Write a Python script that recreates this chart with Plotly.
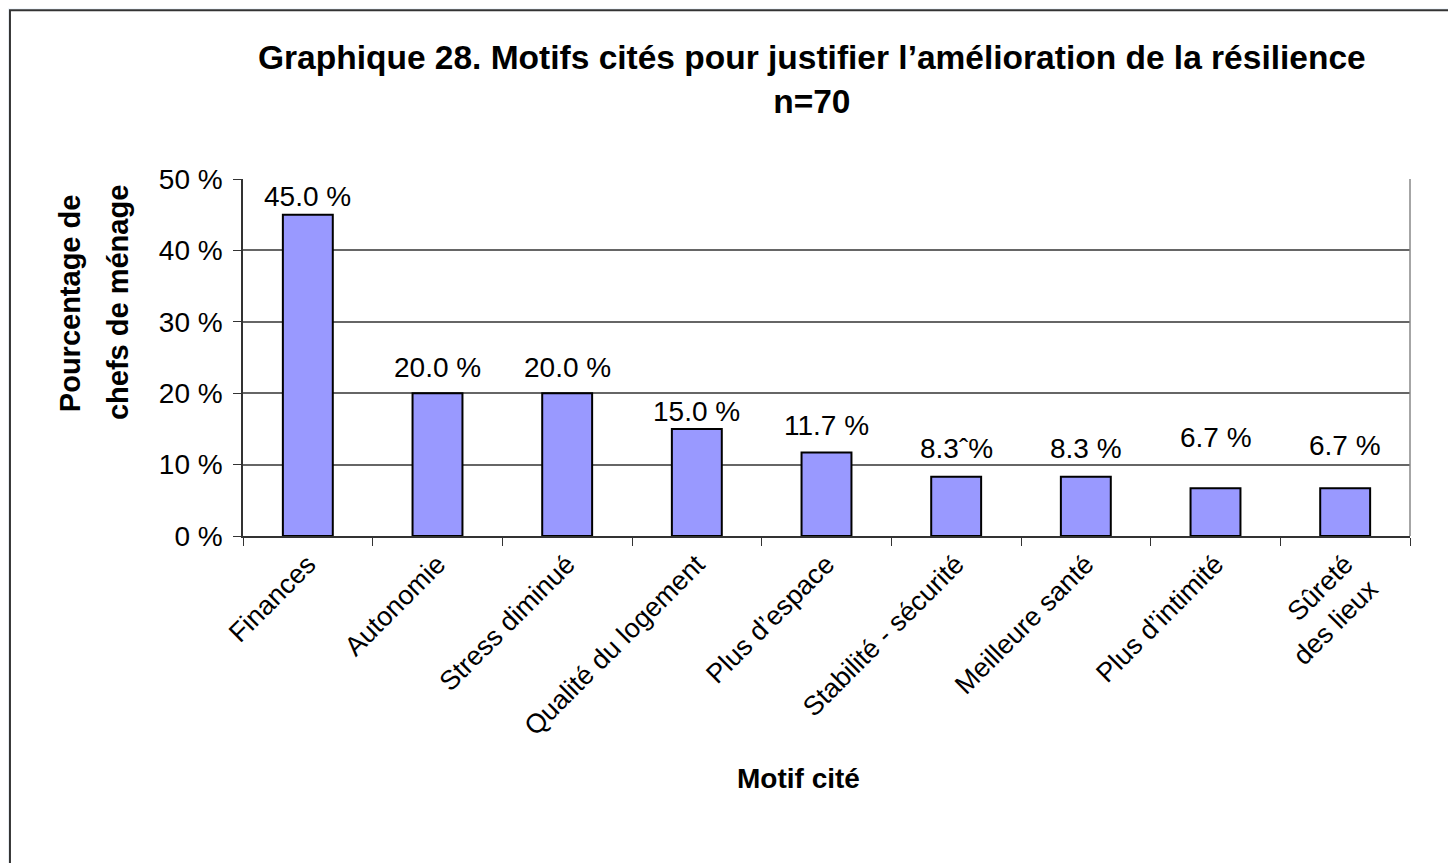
import plotly.graph_objects as go

categories = ["Finances", "Autonomie", "Stress diminué", "Qualité du logement",
              "Plus d’espace", "Stabilité - sécurité", "Meilleure santé",
              "Plus d’intimité", "Sûreté<br>des lieux"]
values = [45.0, 20.0, 20.0, 15.0, 11.7, 8.3, 8.3, 6.7, 6.7]
value_labels = ["45.0 %", "20.0 %", "20.0 %", "15.0 %", "11.7 %", "8.3ˆ%", "8.3 %", "6.7 %", "6.7 %"]
y_ticks = [0, 10, 20, 30, 40, 50]
y_tick_labels = ["0 %", "10 %", "20 %", "30 %", "40 %", "50 %"]

# pixel lift of each value label above its bar (label placement style)
label_lift = [18, 26, 26, 17, 27, 28, 28, 51, 43]

FONT = "Liberation Sans, Arial, sans-serif"

fig = go.Figure()
fig.add_trace(go.Bar(
    x=categories, y=values,
    marker=dict(color="#9999ff", line=dict(color="#000000", width=2)),
    width=0.385,
    hoverinfo="skip",
))

for c, v, t, s in zip(categories, values, value_labels, label_lift):
    fig.add_annotation(x=c, y=v, text=t, showarrow=False, yshift=s,
                       xref="x", yref="y", yanchor="middle",
                       font=dict(family=FONT, size=28, color="#000"))

# Titles
fig.add_annotation(text="<b>Graphique 28. Motifs cités pour justifier l’amélioration de la résilience<br>n=70</b>",
                   xref="paper", yref="paper", x=0.4876, y=1.28, yanchor="middle",
                   showarrow=False, font=dict(family=FONT, size=33.5, color="#000"))
fig.add_annotation(text="<b>Pourcentage de</b>", textangle=-90,
                   xref="paper", yref="paper", x=-0.148, y=0.653, xanchor="center", yanchor="middle",
                   showarrow=False, font=dict(family=FONT, size=29, color="#000"))
fig.add_annotation(text="<b>chefs de ménage</b>", textangle=-90,
                   xref="paper", yref="paper", x=-0.107, y=0.653, xanchor="center", yanchor="middle",
                   showarrow=False, font=dict(family=FONT, size=29, color="#000"))
fig.add_annotation(text="<b>Motif cité</b>",
                   xref="paper", yref="paper", x=0.4756, y=-0.678, xanchor="center", yanchor="middle",
                   showarrow=False, font=dict(family=FONT, size=28, color="#000"))

# chart frame box
fig.add_shape(type="rect", xref="paper", yref="paper",
              x0=-0.1997, y0=-0.97, x1=1.06, y1=1.473,
              line=dict(color="#333333", width=2), fillcolor="white", layer="below")

fig.update_layout(
    width=1456, height=863,
    margin=dict(l=235, r=54, t=171, b=335),
    paper_bgcolor="#f2f7fc",
    plot_bgcolor="#c0c0c0",
    showlegend=False,
    bargap=0.615,
    font=dict(family=FONT, color="#000"),
)
fig.update_xaxes(
    type="category", tickangle=-45, tickson="boundaries",
    ticks="outside", ticklen=8, tickcolor="#333", tickwidth=1,
    showline=True, linecolor="#333", linewidth=1.5, mirror=False,
    tickfont=dict(family=FONT, size=27, color="#000"),
    showgrid=False,
)
fig.update_yaxes(
    range=[0, 50], tickvals=y_ticks, ticktext=y_tick_labels,
    ticks="outside", ticklen=8, tickcolor="#333",
    showline=True, linecolor="#333", linewidth=1.5,
    gridcolor="#666666", gridwidth=1.5,
    tickfont=dict(family=FONT, size=28, color="#000"),
    ticklabelstandoff=5,
    zeroline=False,
)
# right border of plot area
fig.add_shape(type="line", xref="paper", yref="paper", x0=1, x1=1, y0=0, y1=1,
              line=dict(color="#888888", width=1.5))

fig.write_html("out.html")
